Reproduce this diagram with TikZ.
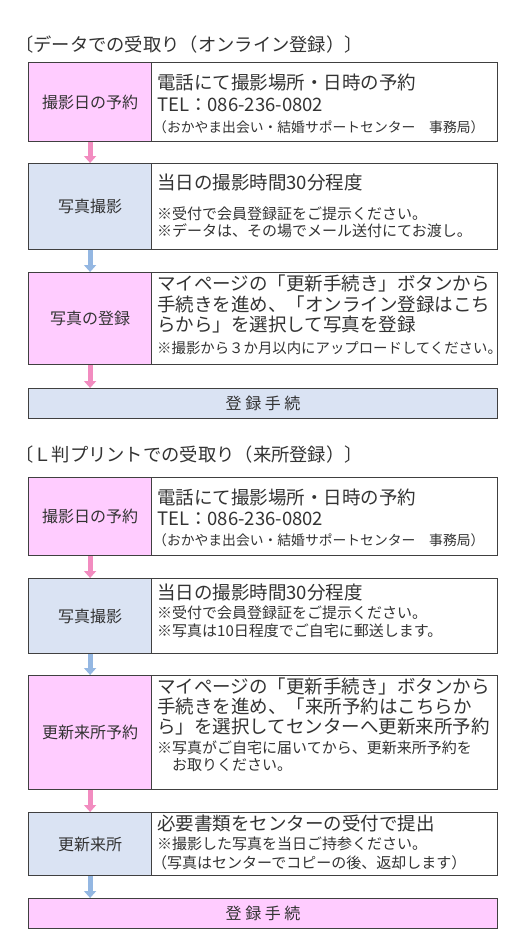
\documentclass[tikz,border=0pt]{standalone}
\usepackage{fontspec}
\setmainfont{Noto Sans CJK JP}
\usepackage{tikz}
\usetikzlibrary{arrows.meta}
\usepackage{xcolor}
\definecolor{pinkbox}{HTML}{FFCCFF}
\definecolor{bluebox}{HTML}{DAE3F3}
\definecolor{pinkarr}{HTML}{F28CC0}
\definecolor{bluearr}{HTML}{94B7E2}
\definecolor{bdr}{HTML}{404040}
\definecolor{txt}{HTML}{333333}
\newcommand{\ttlsz}{\fontsize{18.3}{20}\selectfont}
\newcommand{\mainsz}{\fontsize{18.5}{21}\selectfont}
\newcommand{\labsz}{\fontsize{16}{19}\selectfont}
\newcommand{\notesz}{\fontsize{15}{17}\selectfont}
\newcommand{\tinysz}{\fontsize{13.8}{16}\selectfont}

\begin{document}
\begin{tikzpicture}[x=1pt,y=-1pt]
\tikzstyle{every node}=[inner sep=0pt,text=txt]
\tikzstyle{lbox}=[draw=bdr,line width=1.2pt,anchor=north west,minimum width=123pt]
\tikzstyle{rbox}=[draw=bdr,line width=1.2pt,anchor=north west,minimum width=346pt,fill=white]
\tikzstyle{bar}=[draw=bdr,line width=1.2pt,anchor=north west,minimum width=469pt,minimum height=30pt]
\tikzstyle{line}=[anchor=west]
\tikzstyle{parr}=[draw=pinkarr,line width=5pt,-{Triangle[width=12pt,length=7pt]}]
\tikzstyle{barr}=[draw=bluearr,line width=5pt,-{Triangle[width=12pt,length=7pt]}]
\useasboundingbox[fill=white] (0,0) rectangle (529,945);

\node[line] (t1) at (15,45) {\ttlsz 〔データでの受取り（オンライン登録）〕};

\node[rbox,minimum height=79pt] (b1) at (151,62) {};
\node[lbox,fill=pinkbox,minimum height=79pt] (a1) at (28,62) {\labsz 撮影日の予約};
\node[line] (b1x) at (157,82) {\mainsz 電話にて撮影場所・日時の予約};
\node[line] (b1y) at (157,105) {\mainsz TEL：086-236-0802};
\node[line] (b1z) at (153,127) {\tinysz （おかやま出会い・結婚サポートセンター　事務局）};

\node[rbox,minimum height=86pt] (b2) at (151,163) {};
\node[lbox,fill=bluebox,minimum height=86pt] (a2) at (28,163) {\labsz 写真撮影};
\node[line] (b2x) at (157,183) {\mainsz 当日の撮影時間30分程度};
\node[line] (b2y) at (157,214) {\notesz ※受付で会員登録証をご提示ください。};
\node[line] (b2z) at (157,231) {\notesz ※データは、その場でメール送付にてお渡し。};

\node[rbox,minimum height=92pt] (b3) at (151,272) {};
\node[lbox,fill=pinkbox,minimum height=92pt] (a3) at (28,272) {\labsz 写真の登録};
\node[line] (b3w) at (157,283) {\mainsz マイページの「更新手続き」ボタンから};
\node[line] (b3x) at (157,304) {\mainsz 手続きを進め、「オンライン登録はこち};
\node[line] (b3y) at (157,325) {\mainsz らから」を選択して写真を登録};
\node[line] (b3z) at (157,348) {\fontsize{14.4}{16}\selectfont ※撮影から３か月以内にアップロードしてください。};

\node[bar,fill=bluebox] (c1) at (28,388) {\labsz 登 録 手 続};

\path (a1.south) edge[parr] (a2.north);
\path (a2.south) edge[barr] (a3.north);
\path (a3.south) edge[parr] (a3.south |- c1.north);

\node[line] (t2) at (15,455) {\ttlsz 〔Ｌ判プリントでの受取り（来所登録）〕};

\node[rbox,minimum height=78pt] (e1) at (151,477) {};
\node[lbox,fill=pinkbox,minimum height=78pt] (d1) at (28,477) {\labsz 撮影日の予約};
\node[line] (e1x) at (157,497) {\mainsz 電話にて撮影場所・日時の予約};
\node[line] (e1y) at (157,519) {\mainsz TEL：086-236-0802};
\node[line] (e1z) at (153,540) {\tinysz （おかやま出会い・結婚サポートセンター　事務局）};

\node[rbox,minimum height=75pt] (e2) at (151,578) {};
\node[lbox,fill=bluebox,minimum height=75pt] (d2) at (28,578) {\labsz 写真撮影};
\node[line] (e2x) at (157,592) {\mainsz 当日の撮影時間30分程度};
\node[line] (e2y) at (157,613) {\notesz ※受付で会員登録証をご提示ください。};
\node[line] (e2z) at (157,631) {\notesz ※写真は10日程度でご自宅に郵送します。};

\node[rbox,minimum height=114pt] (e3) at (151,675) {};
\node[lbox,fill=pinkbox,minimum height=114pt] (d3) at (28,675) {\labsz 更新来所予約};
\node[line] (e3v) at (157,686) {\mainsz マイページの「更新手続き」ボタンから};
\node[line] (e3w) at (157,706) {\mainsz 手続きを進め、「来所予約はこちらか};
\node[line] (e3x) at (157,727) {\mainsz ら」を選択してセンターへ更新来所予約};
\node[line] (e3y) at (157,748) {\notesz ※写真がご自宅に届いてから、更新来所予約を};
\node[line] (e3z) at (157,765) {\notesz 　お取りください。};

\node[rbox,minimum height=63pt] (e4) at (151,812) {};
\node[lbox,fill=bluebox,minimum height=63pt] (d4) at (28,812) {\labsz 更新来所};
\node[line] (e4x) at (157,823) {\mainsz 必要書類をセンターの受付で提出};
\node[line] (e4y) at (157,844) {\notesz ※撮影した写真を当日ご持参ください。};
\node[line] (e4z) at (152,863) {\notesz （写真はセンターでコピーの後、返却します）};

\node[bar,fill=pinkbox] (c2) at (28,898) {\labsz 登 録 手 続};

\path (d1.south) edge[parr] (d2.north);
\path (d2.south) edge[barr] (d3.north);
\path (d3.south) edge[parr] (d4.north);
\path (d4.south) edge[barr] (d4.south |- c2.north);
\end{tikzpicture}
\end{document}
